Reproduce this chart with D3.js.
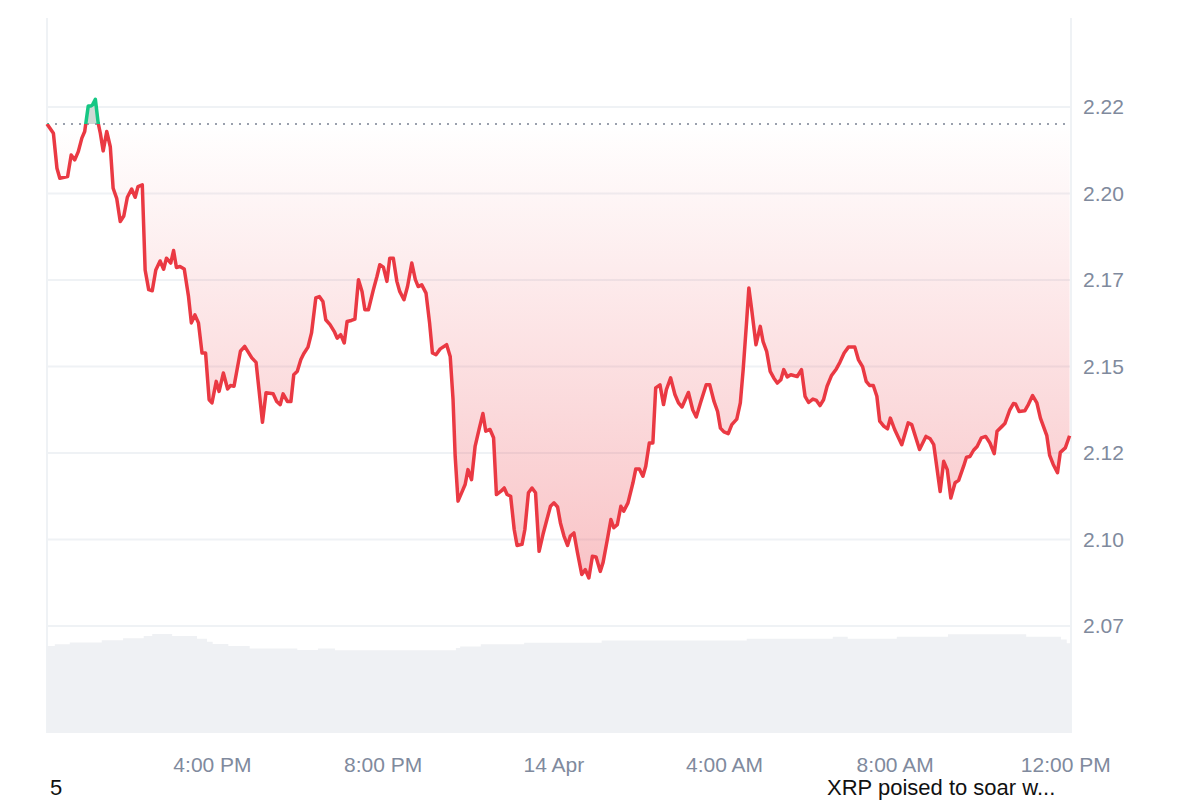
<!DOCTYPE html>
<html>
<head>
<meta charset="utf-8">
<script src="https://cdn.jsdelivr.net/npm/d3@7"></script>
<style>
	body { margin: 0; background: #fff; }
	text { font-family: "Liberation Sans", Arial, sans-serif; }
</style>
</head>
<body>
<svg id="chart" width="1200" height="800"></svg>
<script>
const WIDTH = 1200;
const HEIGHT = 800;
const MARGIN_LEFT = 47;
const MARGIN_RIGHT = 129;
const MARGIN_TOP = 18;
const MARGIN_BOTTOM = 67;

const RED = '#ea3943';
const GREEN = '#16c784';
const GRID = '#eff2f5';
const AXIS_TEXT = '#808a9d';

// XRP price, 13 Apr 12:08 -> 14 Apr 12:08 (times roll over at midnight)
const priceTimes = [
	'12:08','12:17','12:22','12:26','12:37','12:42','12:47','12:52','12:57','13:01','13:06','13:10',
	'13:12','13:16','13:20','13:23','13:27','13:32','13:37','13:41','13:46','13:51','13:56','14:01',
	'14:07','14:12','14:16','14:22','14:26','14:31','14:36','14:41','14:47','14:52','14:56','15:02',
	'15:06','15:10','15:15','15:21','15:27','15:31','15:36','15:41','15:46','15:51','15:56','16:00',
	'16:06','16:10','16:16','16:22','16:26','16:31','16:40','16:46','16:56','17:02','17:11','17:16',
	'17:26','17:31','17:36','17:40','17:46','17:51','17:55','18:00','18:05','18:09','18:15','18:20',
	'18:26','18:31','18:36','18:40','18:46','18:52','18:56','19:01','19:06','19:10','19:16','19:21',
	'19:26','19:31','19:35','19:40','19:47','19:52','19:56','20:01','20:06','20:10','20:15','20:20',
	'20:24','20:30','20:35','20:41','20:46','20:50','20:55','21:01','21:06','21:10','21:15','21:21',
	'21:30','21:35','21:39','21:42','21:46','21:51','21:56','22:00','22:05','22:10','22:16','22:21',
	'22:25','22:31','22:36','22:40','22:46','22:51','22:55','23:00','23:05','23:09','23:16','23:20',
	'23:25','23:30','23:35','23:40','23:46','23:51','23:56','00:01','00:06','00:10','00:15','00:20',
	'00:24','00:29','00:34','00:40','00:45','00:50','00:55','01:00','01:06','01:10','01:16','01:21',
	'01:25','01:30','01:35','01:39','01:45','01:52','01:56','02:01','02:06','02:10','02:15','02:20',
	'02:24','02:30','02:35','02:39','02:45','02:51','02:56','03:01','03:10','03:16','03:21','03:27',
	'03:35','03:40','03:46','03:51','03:55','04:00','04:06','04:11','04:18','04:23','04:27','04:32',
	'04:35','04:39','04:45','04:51','04:55','05:00','05:05','05:10','05:15','05:20','05:24','05:29',
	'05:34','05:43','05:49','05:54','05:59','06:05','06:10','06:15','06:20','06:25','06:31','06:38',
	'06:43','06:49','06:55','07:04','07:09','07:15','07:20','07:25','07:30','07:35','07:39','07:45',
	'07:50','07:54','08:00','08:10','08:19','08:24','08:35','08:44','08:50','08:55','09:04','09:09',
	'09:14','09:19','09:25','09:30','09:37','09:41','09:46','09:51','09:56','10:02','10:08','10:14',
	'10:20','10:24','10:31','10:35','10:42','10:47','10:50','10:55','11:03','11:08','11:14','11:20',
	'11:25','11:34','11:38','11:43','11:49','11:53','12:00','12:06'
];
const prices = [
	2.2201,2.2174,2.2073,2.2044,2.2049,2.2111,2.2097,2.2121,2.2160,2.2179,2.2253,2.2253,
	2.2256,2.2272,2.2203,2.2174,2.2123,2.2179,2.2135,2.2015,2.1986,2.1919,2.1935,2.1989,
	2.2013,2.1989,2.2020,2.2025,2.1779,2.1722,2.1719,2.1779,2.1805,2.1781,2.1813,2.1799,
	2.1835,2.1786,2.1789,2.1782,2.1702,2.1626,2.1649,2.1626,2.1539,2.1539,2.1404,2.1395,
	2.1457,2.1428,2.1481,2.1435,2.1445,2.1443,2.1544,2.1558,2.1525,2.1512,2.1339,2.1424,
	2.1421,2.1399,2.1390,2.1421,2.1399,2.1399,2.1476,2.1486,2.1520,2.1537,2.1556,2.1597,
	2.1698,2.1702,2.1688,2.1635,2.1621,2.1601,2.1582,2.1592,2.1568,2.1630,2.1633,2.1637,
	2.1751,2.1717,2.1664,2.1664,2.1722,2.1760,2.1794,2.1787,2.1746,2.1813,2.1813,2.1746,
	2.1717,2.1693,2.1731,2.1799,2.1751,2.1731,2.1736,2.1712,2.1626,2.1539,2.1534,2.1551,
	2.1563,2.1529,2.1404,2.1240,2.1111,2.1135,2.1159,2.1202,2.1173,2.1269,2.1322,2.1364,
	2.1313,2.1318,2.1294,2.1130,2.1139,2.1149,2.1130,2.1125,2.1029,2.0983,2.0986,2.1029,
	2.1135,2.1149,2.1135,2.0966,2.1019,2.1058,2.1096,2.1106,2.1094,2.1048,2.1010,2.0983,
	2.1010,2.1019,2.0962,2.0899,2.0913,2.0889,2.0952,2.0950,2.0908,2.0934,2.1000,2.1058,
	2.1034,2.1043,2.1096,2.1082,2.1106,2.1164,2.1204,2.1204,2.1183,2.1212,2.1279,2.1279,
	2.1438,2.1447,2.1390,2.1433,2.1467,2.1419,2.1395,2.1383,2.1425,2.1375,2.1354,2.1395,
	2.1447,2.1447,2.1399,2.1370,2.1322,2.1311,2.1306,2.1332,2.1348,2.1395,2.1491,2.1635,
	2.1727,2.1664,2.1563,2.1616,2.1572,2.1544,2.1486,2.1467,2.1452,2.1462,2.1491,2.1470,
	2.1476,2.1471,2.1491,2.1414,2.1396,2.1406,2.1402,2.1387,2.1404,2.1443,2.1473,2.1493,
	2.1512,2.1539,2.1556,2.1556,2.1520,2.1499,2.1457,2.1445,2.1445,2.1414,2.1342,2.1327,
	2.1320,2.1351,2.1318,2.1274,2.1337,2.1332,2.1260,2.1298,2.1291,2.1274,2.1139,2.1226,
	2.1202,2.1120,2.1164,2.1171,2.1212,2.1238,2.1240,2.1258,2.1269,2.1294,2.1298,2.1279,
	2.1248,2.1313,2.1327,2.1335,2.1375,2.1393,2.1392,2.1370,2.1372,2.1390,2.1416,2.1395,
	2.1351,2.1300,2.1243,2.1217,2.1193,2.1252,2.1265,2.1300
];

// 24h volume (billions USD), step starts
const volumeTimes = [
	'12:08','12:19','12:40','13:25','13:55','14:24','14:36','15:04','15:39','15:53','16:01','16:23',
	'16:53','18:00','18:29','18:53','21:43','21:49','22:18','23:19','01:08','04:32','06:33','06:54',
	'08:03','09:15','11:05','11:54','12:02'
];
const volumes = [
	2.90,2.96,3.02,3.09,3.16,3.23,3.30,3.23,3.14,3.04,2.97,2.90,
	2.82,2.77,2.82,2.76,2.83,2.88,2.96,3.01,3.08,3.14,3.21,3.14,
	3.21,3.29,3.21,3.12,2.99
];

const timeStart = '2025-04-13 12:08';
const timeEnd = '2025-04-14 12:08';
const priceDomain = [2.0441, 2.2507];
const volumeMax = 3.5;

const yTicks = [2.225, 2.2, 2.175, 2.15, 2.125, 2.1, 2.075];
const yTickLabels = ['2.22', '2.20', '2.17', '2.15', '2.12', '2.10', '2.07'];
const xTicks = ['2025-04-13 16:00', '2025-04-13 20:00', '2025-04-14 00:00', '2025-04-14 04:00', '2025-04-14 08:00', '2025-04-14 12:00'];
const xTickLabels = ['4:00 PM', '8:00 PM', '14 Apr', '4:00 AM', '8:00 AM', '12:00 PM'];

const footLeft = '5';
const footRight = 'XRP poised to soar w...';

const parseTime = d3.timeParse('%Y-%m-%d %H:%M');

// Turn HH:MM list into dates, moving to the next day when the clock wraps
const to_dates = (list) => {
	let day = 13;
	let prev = -1;
	return list.map(t => {
		const mins = +t.slice(0, 2) * 60 + +t.slice(3);
		if (mins < prev) day++;
		prev = mins;
		return parseTime(`2025-04-${day} ${t}`);
	});
};

const svg = d3.select('#chart');
svg.append('rect').attr('width', WIDTH).attr('height', HEIGHT).attr('fill', '#fff');

const x = d3.scaleTime()
	.domain([parseTime(timeStart), parseTime(timeEnd)])
	.range([MARGIN_LEFT, WIDTH - MARGIN_RIGHT]);

const y = d3.scaleLinear()
	.domain(priceDomain)
	.range([HEIGHT - MARGIN_BOTTOM, MARGIN_TOP]);

const v = d3.scaleLinear()
	.domain([0, volumeMax])
	.range([HEIGHT - MARGIN_BOTTOM, HEIGHT - MARGIN_BOTTOM - 105]);

const priceDates = to_dates(priceTimes);
const dataset = priceDates.map((t, i) => ({t: t, p: prices[i]}));

const volDates = to_dates(volumeTimes);
const volData = volDates.map((t, i) => ({t: t, v: volumes[i]}));
volData.push({t: parseTime(timeEnd), v: volumes[volumes.length - 1]});

const yRef = y(prices[0]);
const plotBottom = HEIGHT - MARGIN_BOTTOM;

// Clip regions above / below the opening price, plus the red fade
const defs = svg.append('defs');
defs.append('clipPath').attr('id', 'above')
	.append('rect')
	.attr('x', MARGIN_LEFT - 5).attr('y', 0)
	.attr('width', WIDTH - MARGIN_LEFT - MARGIN_RIGHT + 10).attr('height', yRef);
defs.append('clipPath').attr('id', 'below')
	.append('rect')
	.attr('x', MARGIN_LEFT - 5).attr('y', yRef)
	.attr('width', WIDTH - MARGIN_LEFT - MARGIN_RIGHT + 10).attr('height', HEIGHT - yRef);

const grad = defs.append('linearGradient')
	.attr('id', 'redFade')
	.attr('gradientUnits', 'userSpaceOnUse')
	.attr('x1', 0).attr('x2', 0)
	.attr('y1', yRef).attr('y2', y(d3.min(prices)));
grad.append('stop').attr('offset', 0).attr('stop-color', RED).attr('stop-opacity', 0.0);
grad.append('stop').attr('offset', 1).attr('stop-color', RED).attr('stop-opacity', 0.3);

// Grid lines
svg.append('g')
	.selectAll('line')
	.data(yTicks)
	.enter()
	.append('line')
	.attr('x1', MARGIN_LEFT)
	.attr('x2', WIDTH - MARGIN_RIGHT)
	.attr('y1', d => y(d))
	.attr('y2', d => y(d))
	.attr('stroke', GRID)
	.attr('stroke-width', 2);

// Frame sides
[MARGIN_LEFT, WIDTH - MARGIN_RIGHT].forEach(xx => {
	svg.append('line')
		.attr('x1', xx).attr('x2', xx)
		.attr('y1', MARGIN_TOP).attr('y2', plotBottom)
		.attr('stroke', GRID)
		.attr('stroke-width', 2);
});

// Volume
const volArea = d3.area()
	.x(d => x(d.t))
	.y0(plotBottom)
	.y1(d => v(d.v))
	.curve(d3.curveStepAfter);

svg.append('path')
	.datum(volData)
	.attr('d', volArea)
	.attr('fill', '#eff1f4');

// Fill between price and opening price
const fillArea = d3.area()
	.x(d => x(d.t))
	.y0(yRef)
	.y1(d => y(d.p));

svg.append('path')
	.datum(dataset)
	.attr('d', fillArea)
	.attr('fill', 'url(#redFade)')
	.attr('clip-path', 'url(#below)');

svg.append('path')
	.datum(dataset)
	.attr('d', fillArea)
	.attr('fill', '#cfdad6')
	.attr('clip-path', 'url(#above)');

// Opening price reference
svg.append('line')
	.attr('x1', MARGIN_LEFT)
	.attr('x2', WIDTH - MARGIN_RIGHT)
	.attr('y1', yRef)
	.attr('y2', yRef)
	.attr('stroke', '#9aa0ad')
	.attr('stroke-width', 2)
	.attr('stroke-dasharray', '2,6');

// Price line
const line = d3.line()
	.x(d => x(d.t))
	.y(d => y(d.p));

svg.append('path')
	.datum(dataset)
	.attr('d', line)
	.attr('fill', 'none')
	.attr('stroke', RED)
	.attr('stroke-width', 3.5)
	.attr('stroke-linejoin', 'round')
	.attr('clip-path', 'url(#below)');

svg.append('path')
	.datum(dataset)
	.attr('d', line)
	.attr('fill', 'none')
	.attr('stroke', GREEN)
	.attr('stroke-width', 3.5)
	.attr('stroke-linejoin', 'round')
	.attr('clip-path', 'url(#above)');

// Axes
const yAxis = svg.append('g')
	.attr('transform', `translate(${WIDTH - MARGIN_RIGHT},0)`)
	.call(d3.axisRight(y)
		.tickValues(yTicks)
		.tickSize(0)
		.tickPadding(12)
		.tickFormat((d, i) => yTickLabels[i]));

const xAxis = svg.append('g')
	.attr('transform', `translate(0,${plotBottom})`)
	.call(d3.axisBottom(x)
		.tickValues(xTicks.map(parseTime))
		.tickSize(0)
		.tickPadding(24)
		.tickFormat((d, i) => xTickLabels[i]));

[yAxis, xAxis].forEach(a => {
	a.select('.domain').remove();
	a.selectAll('text')
		.attr('fill', AXIS_TEXT)
		.attr('font-size', '21px')
		.attr('font-family', '"Liberation Sans", Arial, sans-serif');
});

// Footer texts
svg.append('text')
	.attr('x', 50)
	.attr('y', 795)
	.attr('font-size', '22px')
	.attr('fill', '#111')
	.text(footLeft);

svg.append('text')
	.attr('x', 827)
	.attr('y', 795)
	.attr('font-size', '22px')
	.attr('fill', '#111')
	.text(footRight);
</script>
</body>
</html>
